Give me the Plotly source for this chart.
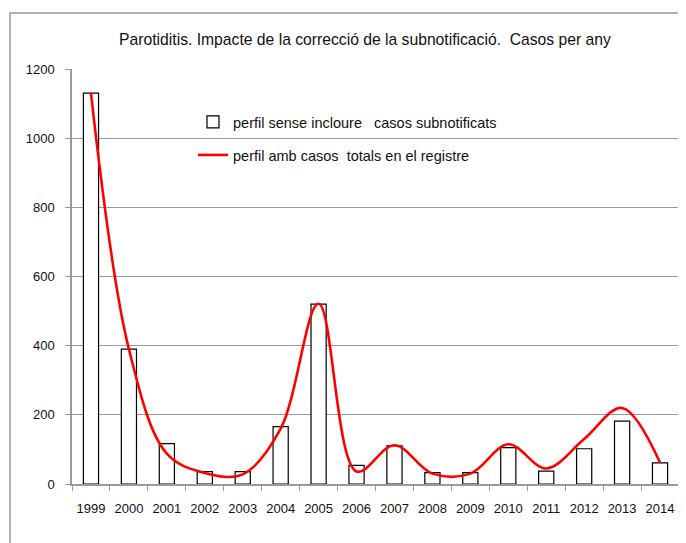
import plotly.graph_objects as go

years = ["1999", "2000", "2001", "2002", "2003", "2004", "2005", "2006",
         "2007", "2008", "2009", "2010", "2011", "2012", "2013", "2014"]
casos_sense = [1130, 390, 117, 36, 36, 166, 520, 54, 110, 33, 33, 105, 37, 102, 182, 61]
casos_totals = [1130, 390, 88, 32, 28, 160, 521, 36, 112, 30, 30, 115, 45, 130, 220, 62]
y_ticks = [0, 200, 400, 600, 800, 1000, 1200]

FONT = "Liberation Sans, Arial, sans-serif"
GRID = "#9a9a9a"
OFF = 8  # page body margin offset

# plot area target (page px): x 72..679, y 69..484
L, R, T, B = 72 - OFF, 686 - 679, 69 - OFF, 543 - 484
W, H = 686 - OFF, 543 - OFF
PW, PH = 607, 415

fig = go.Figure()
fig.add_trace(go.Bar(
    x=years, y=casos_sense, width=0.4,
    marker=dict(color="white", line=dict(color="black", width=1.2)),
    name="perfil sense incloure   casos subnotificats",
    legend="legend",
))
fig.add_trace(go.Scatter(
    x=years, y=casos_totals, mode="lines",
    line=dict(color="#ff0000", width=2.6, shape="spline", smoothing=1.0),
    name="perfil amb casos  totals en el registre",
    legend="legend2",
))

fig.update_layout(
    width=W, height=H,
    margin=dict(l=L, r=R, t=T, b=B),
    paper_bgcolor="white", plot_bgcolor="white",
    font=dict(family=FONT, size=13, color="#111"),
    title=dict(text="Parotiditis. Impacte de la correcció de la subnotificació.  Casos per any",
               x=(365 - OFF) / W, xanchor="center", y=1 - (40 - OFF) / H, yanchor="middle",
               font=dict(family=FONT, size=15.7, color="#111")),
    bargap=0.6,
    showlegend=True,
    legend=dict(x=(193 - 72) / PW, y=(484 - 122) / PH, xanchor="left", yanchor="middle",
                bgcolor="rgba(0,0,0,0)", font=dict(family=FONT, size=14.5, color="#111"),
                itemwidth=30),
    legend2=dict(x=(193 - 72) / PW, y=(484 - 155) / PH, xanchor="left", yanchor="middle",
                 bgcolor="rgba(0,0,0,0)", font=dict(family=FONT, size=14.5, color="#111"),
                 itemwidth=30),
    xaxis=dict(type="category", showline=True, linecolor=GRID, linewidth=1.5,
               ticks="outside", tickson="boundaries", ticklen=5, tickcolor=GRID,
               ticklabelstandoff=12,
               showgrid=False, tickfont=dict(family=FONT, size=13, color="#111")),
    yaxis=dict(range=[0, 1200], tickvals=y_ticks, showline=True, linecolor=GRID,
               linewidth=1.5, ticks="outside", ticklen=5, tickcolor=GRID,
               ticklabelstandoff=8,
               showgrid=True, gridcolor=GRID, gridwidth=1.2, zeroline=False,
               tickfont=dict(family=FONT, size=13, color="#111")),
)

fig.add_shape(type="rect", xref="paper", yref="paper",
              x0=(10 - 72) / PW, x1=1.2, y0=-0.3, y1=(484 - 13) / PH,
              line=dict(color="#9a9a9a", width=1.5), fillcolor="rgba(0,0,0,0)", layer="below")

fig.write_html("out.html")
